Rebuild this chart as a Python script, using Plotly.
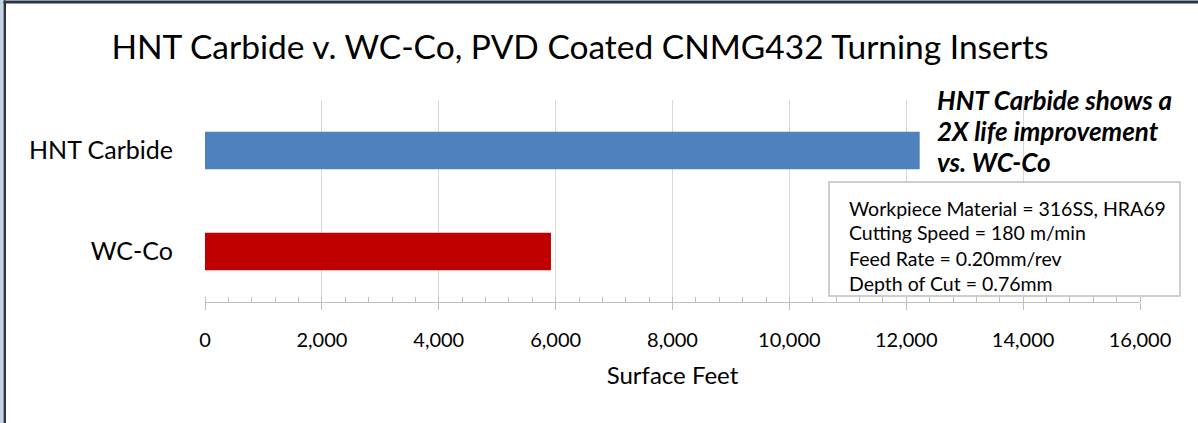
import plotly.graph_objects as go

categories = ["HNT Carbide", "WC-Co"]
values = [12230, 5920]
colors = ["#4f81bd", "#c00000"]
x_ticks = [0, 2000, 4000, 6000, 8000, 10000, 12000, 14000, 16000]
x_tick_labels = ["0", "2,000", "4,000", "6,000", "8,000", "10,000", "12,000", "14,000", "16,000"]
callout_lines = ["HNT Carbide shows a", "2X life improvement", "vs. WC-Co"]
box_lines = ["Workpiece Material = 316SS, HRA69", "Cutting Speed = 180 m/min",
             "Feed Rate = 0.20mm/rev", "Depth of Cut = 0.76mm"]

FONT = "Lato"
W, H = 1198, 423
L, R, T, B = 205, 58, 100, 121
PW = W - L - R
PH = H - T - B

def px(x):
    return (x - L) / PW

def py(y):
    return (T + PH - y) / PH

fig = go.Figure()
fig.add_trace(go.Bar(
    y=categories, x=values, orientation="h",
    marker=dict(color=colors, line=dict(width=0)),
    width=0.37, showlegend=False,
))

fig.update_layout(
    width=W, height=H,
    margin=dict(l=L, r=R, t=T, b=B, autoexpand=False),
    paper_bgcolor="white", plot_bgcolor="white",
    font=dict(family=FONT, color="#000000"),
    title=dict(text="HNT Carbide v. WC-Co, PVD Coated CNMG432 Turning Inserts",
               x=580 / W, xanchor="center", y=1 - 47 / H, yanchor="middle",
               font=dict(size=33.5, family=FONT, color="#000000")),
)
fig.update_xaxes(
    range=[0, 16000], tickvals=x_ticks, ticktext=x_tick_labels,
    showgrid=True, gridcolor="#d9d9d9", gridwidth=1,
    showline=True, linecolor="#bfbfbf", linewidth=1,
    ticks="outside", ticklen=7, tickcolor="#bfbfbf",
    minor=dict(dtick=400, ticks="inside", ticklen=5, tickcolor="#bfbfbf", showgrid=False),
    tickfont=dict(size=20, family=FONT, color="#000000"),
    ticklabelstandoff=13,
    title=dict(text="Surface Feet", font=dict(size=24, family=FONT, color="#000000"), standoff=17),
    zeroline=False, fixedrange=True,
)
fig.update_yaxes(
    categoryorder="array", categoryarray=categories[::-1],
    showgrid=False, showline=False, ticks="",
    tickfont=dict(size=25, family=FONT, color="#000000"),
    ticklabelstandoff=31, zeroline=False, fixedrange=True,
)

# callout text (bold italic)
for i, line in enumerate(callout_lines):
    fig.add_annotation(xref="paper", yref="paper", x=px(935), y=py(100 + 31 * i),
                       xanchor="left", yanchor="middle", showarrow=False,
                       text="<b><i>" + line + "</i></b>",
                       font=dict(size=26, family=FONT, color="#000000"))

# info box
fig.add_shape(type="rect", xref="paper", yref="paper",
              x0=px(829), x1=px(1180), y0=py(296), y1=py(182),
              line=dict(color="#bfbfbf", width=1.5), fillcolor="white", layer="above")
for i, line in enumerate(box_lines):
    fig.add_annotation(xref="paper", yref="paper", x=px(847), y=py(208 + 25 * i),
                       xanchor="left", yanchor="middle", showarrow=False,
                       text=line, font=dict(size=19.5, family=FONT, color="#000000"))

# outer frame (top and left edges only visible)
fig.add_shape(type="rect", xref="paper", yref="paper",
              x0=px(0), x1=px(3), y0=py(H), y1=py(0),
              line=dict(width=0), fillcolor="#c5d3e3", layer="above")
fig.add_shape(type="rect", xref="paper", yref="paper",
              x0=px(3.5), x1=px(W), y0=py(3.5), y1=py(0.5),
              line=dict(width=0), fillcolor="#2b3445", layer="above")
fig.add_shape(type="rect", xref="paper", yref="paper",
              x0=px(3.5), x1=px(6), y0=py(H), y1=py(0.5),
              line=dict(width=0), fillcolor="#2b3445", layer="above")

fig.write_html("out.html", config={"displayModeBar": False},
               post_script="document.body.style.margin='0';document.body.style.padding='0';")
